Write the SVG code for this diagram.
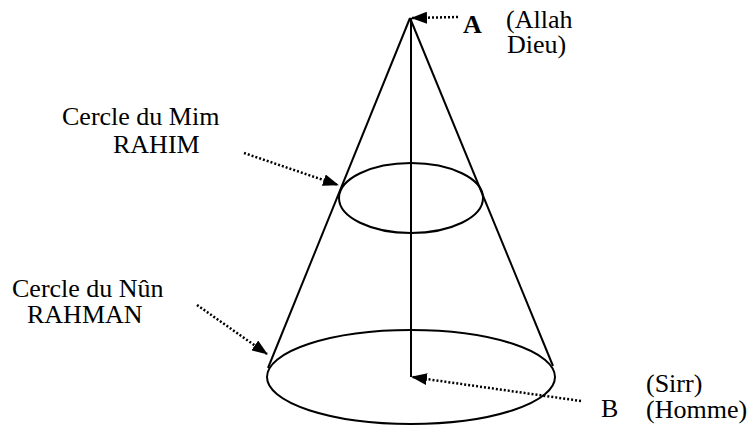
<svg xmlns="http://www.w3.org/2000/svg" width="751" height="426" viewBox="0 0 751 426">
<style>
.shape{fill:none;stroke:#000;stroke-width:2}
.dot{fill:none;stroke:#000;stroke-width:2.5;stroke-dasharray:2 2}
text{font-family:"Liberation Serif","Times New Roman",serif;font-size:26px;fill:#000}
.b{font-weight:bold}
</style>
<defs>
<marker id="ah" markerUnits="userSpaceOnUse" markerWidth="16" markerHeight="12" viewBox="0 0 16 12" refX="15" refY="6" orient="auto">
<path d="M0,0 L16,6 L0,12 Z" fill="#000"/>
</marker>
</defs>
<rect width="751" height="426" fill="#fff"/>
<g id="cone">
<line class="shape" x1="410" y1="18" x2="268" y2="368"/>
<line class="shape" x1="410" y1="18" x2="553" y2="366"/>
<line class="shape" x1="411" y1="18" x2="411" y2="377"/>
<ellipse id="circle-mim" class="shape" cx="411" cy="198" rx="72" ry="35"/>
<ellipse id="circle-nun" class="shape" cx="411" cy="377" rx="144" ry="47"/>
</g>
<g id="connectors">
<line class="dot" x1="458" y1="17" x2="412" y2="18" marker-end="url(#ah)"/>
<line class="dot" x1="244" y1="153" x2="338" y2="185" marker-end="url(#ah)"/>
<line class="dot" x1="197" y1="305" x2="267" y2="354" marker-end="url(#ah)"/>
<line class="dot" x1="581" y1="401" x2="412" y2="377" marker-end="url(#ah)"/>
</g>
<g id="label-A">
<text class="b" x="463" y="33">A</text>
<text x="506" y="28">(Allah</text>
<text x="507" y="53">Dieu)</text>
</g>
<g id="label-mim">
<text x="62" y="125">Cercle du Mim</text>
<text x="113" y="153">RAHIM</text>
</g>
<g id="label-nun">
<text x="12" y="297">Cercle du Nûn</text>
<text x="27" y="323">RAHMAN</text>
</g>
<g id="label-B">
<text x="601" y="417">B</text>
<text x="646" y="392">(Sirr)</text>
<text x="646" y="418">(Homme)</text>
</g>
</svg>
